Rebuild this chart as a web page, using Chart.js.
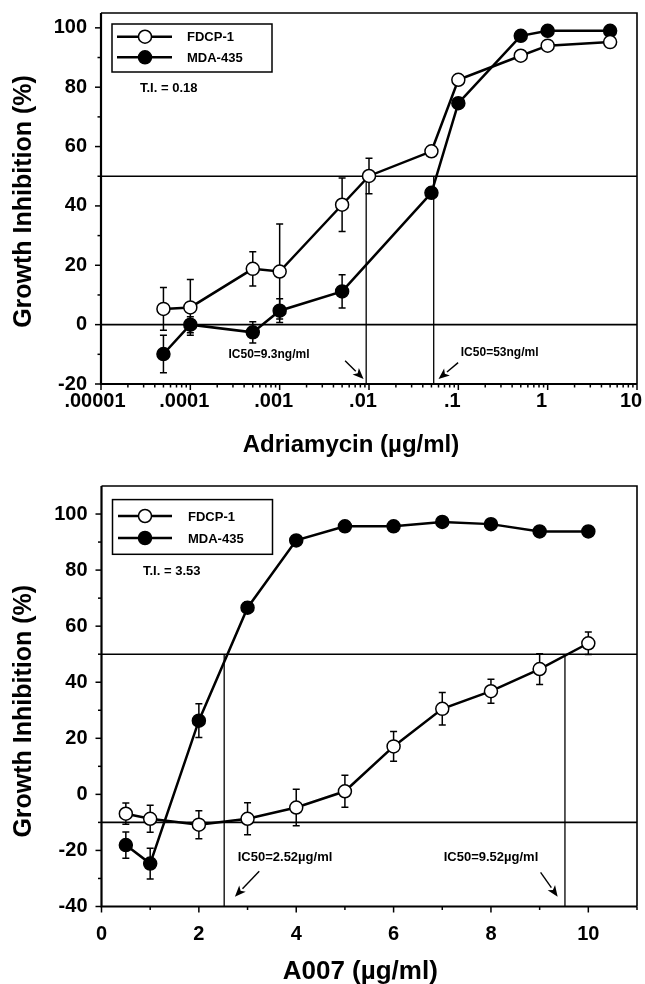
<!DOCTYPE html>
<html><head><meta charset="utf-8">
<script src="https://cdn.jsdelivr.net/npm/chart.js@4.4.0/dist/chart.umd.min.js"></script>
<style>
html,body{margin:0;padding:0;background:#fff;}
#wrap{position:relative;width:645px;height:984px;overflow:hidden;}
canvas{position:absolute;left:0;}
</style>
</head><body>
<div id="wrap">
<canvas id="c1" width="645" height="470" style="top:0px"></canvas>
<canvas id="c2" width="645" height="514" style="top:470px"></canvas>
</div>
<script>
// ---------- DATA (top panel: Adriamycin) ----------
const topDoses   = [0.00005, 0.0001, 0.0005, 0.001, 0.005, 0.01, 0.05, 0.1, 0.5, 1, 5];
const topFDCP    = [5.3, 5.8, 18.8, 17.9, 40.4, 50.1, 58.4, 82.5, 90.6, 94.0, 95.2];
const topFDCPErr = [7.2, 9.4, 5.8, 16, 9, 6, 1.5, 0, 0, 0, 0];
const topMDA     = [-9.9, 0, -2.6, 4.7, 11.2, 44.4, 74.6, 97.3, 99.0, 99.0];
const topMDADoses= [0.00005, 0.0001, 0.0005, 0.001, 0.005, 0.05, 0.1, 0.5, 1, 5];
const topMDAErr  = [6.3, 2.7, 3.6, 4, 5.6, 1.5, 0, 0, 0, 0];
const topXTickValues = [0.00001, 0.0001, 0.001, 0.01, 0.1, 1, 10];
const topXTickLabels = ['.00001', '.0001', '.001', '.01', '.1', '1', '10'];
const topYTicks  = [-20, 0, 20, 40, 60, 80, 100];
const topIC50    = [0.0093, 0.053];
const topIC50Labels = ['IC50=9.3ng/ml', 'IC50=53ng/ml'];
const topRefLines = [50, 0];
const topTI = 'T.I. = 0.18';

// ---------- DATA (bottom panel: A007) ----------
const botDoses   = [0.5, 1, 2, 3, 4, 5, 6, 7, 8, 9, 10];
const botFDCP    = [-6.9, -8.7, -10.8, -8.7, -4.7, 1.1, 17.1, 30.5, 36.8, 44.7, 53.9];
const botFDCPErr = [3.8, 4.8, 5, 5.7, 6.5, 5.7, 5.3, 5.8, 4.3, 5.5, 4];
const botMDA     = [-18.1, -24.7, 26.3, 66.6, 90.6, 95.6, 95.6, 97.2, 96.4, 93.8, 93.8];
const botMDAErr  = [4.7, 5.5, 6, 2, 0, 0, 0, 0, 0, 0, 0];
const botXTicks  = [0, 2, 4, 6, 8, 10];
const botYTicks  = [-40, -20, 0, 20, 40, 60, 80, 100];
const botIC50    = [2.52, 9.52];
const botIC50Labels = ['IC50=2.52\u00b5g/ml', 'IC50=9.52\u00b5g/ml'];
const botRefLines = [50, -10];
const botTI = 'T.I. = 3.53';

const seriesNames = ['FDCP-1', 'MDA-435'];
const yTitle = 'Growth Inhibition (%)';
const topXTitle = 'Adriamycin (\u00b5g/ml)';
const botXTitle = 'A007 (\u00b5g/ml)';

// ---------- rendering ----------
Chart.defaults.font.family = '"Liberation Sans", Arial, Helvetica, sans-serif';
Chart.defaults.font.weight = 'bold';
Chart.defaults.color = '#000';
const FONT = '"Liberation Sans", Arial, Helvetica, sans-serif';

function pts(xs, ys){ return ys.map((v,i)=>({x:xs[i], y:v})); }

function drawArrow(ctx, x1, y1, x2, y2){
  const ang = Math.atan2(y2-y1, x2-x1), L = 11, W = 4.5;
  const bx = x2 - L*Math.cos(ang), by = y2 - L*Math.sin(ang);
  ctx.beginPath(); ctx.moveTo(x1,y1); ctx.lineTo(bx,by); ctx.lineWidth = 1.4; ctx.stroke();
  ctx.beginPath();
  ctx.moveTo(x2,y2);
  ctx.lineTo(bx + W*Math.sin(ang), by - W*Math.cos(ang));
  ctx.lineTo(bx + L*0.25*Math.cos(ang), by + L*0.25*Math.sin(ang));
  ctx.lineTo(bx - W*Math.sin(ang), by + W*Math.cos(ang));
  ctx.closePath(); ctx.fill();
}

function overlay(o){
  return {
    id: 'overlay_' + o.key,
    beforeDatasetsDraw(chart){
      const {ctx, chartArea:a, scales:{x, y}} = chart;
      ctx.save();
      ctx.strokeStyle = '#000';
      ctx.lineWidth = 1.6;
      o.refLines.forEach(v=>{
        const py = y.getPixelForValue(v);
        ctx.beginPath(); ctx.moveTo(a.left, py); ctx.lineTo(a.right, py); ctx.stroke();
      });
      ctx.lineWidth = 1.3;
      o.ic50.forEach(v=>{
        const px = x.getPixelForValue(v);
        ctx.beginPath(); ctx.moveTo(px, y.getPixelForValue(o.refLines[0])); ctx.lineTo(px, a.bottom); ctx.stroke();
      });
      ctx.lineWidth = 1.5;
      o.errs.forEach((errArr, di)=>{
        chart.data.datasets[di].data.forEach((p, j)=>{
          const e = errArr[j]; if(!e) return;
          const px = x.getPixelForValue(p.x);
          const t = y.getPixelForValue(p.y + e), b = y.getPixelForValue(p.y - e);
          ctx.beginPath();
          ctx.moveTo(px, t); ctx.lineTo(px, b);
          ctx.moveTo(px-3.5, t); ctx.lineTo(px+3.5, t);
          ctx.moveTo(px-3.5, b); ctx.lineTo(px+3.5, b);
          ctx.stroke();
        });
      });
      ctx.restore();
    },
    afterDraw(chart){
      const {ctx, chartArea:a, scales:{x, y}} = chart;
      ctx.save();
      ctx.strokeStyle = '#000'; ctx.fillStyle = '#000';
      // frame
      ctx.lineWidth = 1.6;
      ctx.beginPath(); ctx.moveTo(a.left, a.top); ctx.lineTo(a.right, a.top); ctx.lineTo(a.right, a.bottom); ctx.stroke();
      ctx.lineWidth = 2.2;
      ctx.beginPath(); ctx.moveTo(a.left, a.top); ctx.lineTo(a.left, a.bottom); ctx.lineTo(a.right, a.bottom); ctx.stroke();
      // tick marks
      ctx.lineWidth = 1.5;
      o.yMajor.forEach(v=>{ const py=y.getPixelForValue(v); ctx.beginPath(); ctx.moveTo(a.left, py); ctx.lineTo(a.left-6, py); ctx.stroke(); });
      o.yMinor.forEach(v=>{ const py=y.getPixelForValue(v); ctx.beginPath(); ctx.moveTo(a.left, py); ctx.lineTo(a.left-3.5, py); ctx.stroke(); });
      o.xMajor.forEach(v=>{ const px=x.getPixelForValue(v); ctx.beginPath(); ctx.moveTo(px, a.bottom); ctx.lineTo(px, a.bottom+6); ctx.stroke(); });
      o.xMinor.forEach(v=>{ const px=x.getPixelForValue(v); ctx.beginPath(); ctx.moveTo(px, a.bottom); ctx.lineTo(px, a.bottom+3.5); ctx.stroke(); });
      // legend
      const lg = o.legend;
      const lx = a.left + lg.dx, ly = a.top + lg.dy;
      ctx.lineWidth = 1.5;
      ctx.strokeRect(lx, ly, lg.w, lg.h);
      chart.data.datasets.forEach((ds, i)=>{
        const ry = a.top + lg.rows[i];
        ctx.lineWidth = 2.5;
        ctx.beginPath(); ctx.moveTo(a.left + lg.lineX[0], ry); ctx.lineTo(a.left + lg.lineX[1], ry); ctx.stroke();
        ctx.beginPath(); ctx.arc(a.left + lg.markX, ry, 6.5, 0, Math.PI*2);
        ctx.fillStyle = ds.pointBackgroundColor; ctx.fill();
        ctx.lineWidth = 1.5; ctx.stroke();
        ctx.fillStyle = '#000';
        ctx.font = 'bold 13px ' + FONT; ctx.textAlign = 'left'; ctx.textBaseline = 'middle';
        ctx.fillText(ds.label, a.left + lg.textX, ry + 1);
      });
      // T.I.
      ctx.font = 'bold 13px ' + FONT; ctx.textAlign = 'left'; ctx.textBaseline = 'middle';
      ctx.fillText(o.ti, a.left + o.tiPos[0], a.top + o.tiPos[1]);
      // IC50 labels and arrows (placed in data units)
      ctx.font = 'bold ' + o.icFont + 'px ' + FONT; ctx.textAlign = 'center';
      o.icLabels.forEach((t, i)=>{
        const L = o.icLabelPos[i];
        ctx.fillText(t, x.getPixelForValue(L[0]), y.getPixelForValue(L[1]));
        const A = o.arrows[i];
        drawArrow(ctx, x.getPixelForValue(A[0]), y.getPixelForValue(A[1]), x.getPixelForValue(A[2]), y.getPixelForValue(A[3]));
      });
      // axis titles
      ctx.font = 'bold 25px ' + FONT; ctx.textAlign = 'center'; ctx.textBaseline = 'middle';
      ctx.save();
      ctx.translate(o.yTitleX, (a.top + a.bottom)/2 + o.yTitleShift);
      ctx.rotate(-Math.PI/2);
      ctx.fillText(yTitle, 0, 0);
      ctx.restore();
      ctx.font = 'bold ' + o.xTitleFont + 'px ' + FONT;
      ctx.fillText(o.xTitle, (a.left + a.right)/2 + o.xTitleShift, o.xTitleY);
      ctx.restore();
    }
  };
}

function datasets(xsA, ysA, xsB, ysB){
  return [
    {label: seriesNames[0], data: pts(xsA, ysA), showLine: true, borderColor: '#000', borderWidth: 2.5,
     pointRadius: 6.5, pointHoverRadius: 6.5, pointBorderWidth: 1.5, pointBackgroundColor: '#fff', pointBorderColor: '#000', order: 1},
    {label: seriesNames[1], data: pts(xsB, ysB), showLine: true, borderColor: '#000', borderWidth: 2.5,
     pointRadius: 6.5, pointHoverRadius: 6.5, pointBorderWidth: 1.5, pointBackgroundColor: '#000', pointBorderColor: '#000', order: 2}
  ];
}

function baseOptions(xScale, yScale, pad){
  return {
    responsive: false, animation: false, devicePixelRatio: 1,
    layout: {padding: pad},
    plugins: {legend: {display: false}, tooltip: {enabled: false}},
    scales: {x: xScale, y: yScale}
  };
}

// ---- top chart ----
const topXMinor = [];
topXTickValues.slice(0, -1).forEach(d=>{ for(let k=2;k<=9;k++) topXMinor.push(k*d); });
const topYMinor = [-10, 10, 30, 50, 70, 90];

new Chart(document.getElementById('c1'), {
  type: 'scatter',
  data: {datasets: datasets(topDoses, topFDCP, topMDADoses, topMDA)},
  options: baseOptions(
    {type: 'logarithmic', min: 0.00001, max: 10,
     grid: {display: false, drawTicks: false}, border: {display: false},
     afterBuildTicks: s=>{ s.ticks = topXTickValues.map(v=>({value: v})); },
     afterFit: s=>{ s.height = 86; s.paddingLeft = 0; s.paddingRight = 0; },
     ticks: {autoSkip: false, maxRotation: 0, padding: 5, labelOffset: -6, font: {size: 20, weight: 'bold'}, color: '#000',
             callback: (v, i)=>topXTickLabels[i]}},
    {type: 'linear', min: -20, max: 105,
     grid: {display: false, drawTicks: false}, border: {display: false},
     afterBuildTicks: s=>{ s.ticks = topYTicks.map(v=>({value: v})); },
     afterFit: s=>{ s.width = 101; s.paddingTop = 0; s.paddingBottom = 0; },
     ticks: {padding: 14, font: {size: 20, weight: 'bold'}, color: '#000'}},
    {left: 0, right: 7, top: 13, bottom: 0}
  ),
  plugins: [overlay({
    key: 'top', refLines: topRefLines, ic50: topIC50, errs: [topFDCPErr, topMDAErr],
    yMajor: topYTicks, yMinor: topYMinor, xMajor: topXTickValues, xMinor: topXMinor,
    legend: {dx: 11, dy: 11, w: 160, h: 48, rows: [23.7, 44.3], lineX: [16, 71], markX: 44, textX: 86},
    ti: topTI, tiPos: [39, 75],
    icFont: 12, icLabels: topIC50Labels,
    icLabelPos: [[0.00076, -10.1], [0.29, -9.5]],
    arrows: [[0.0054, -12.2, 0.0087, -18.3], [0.0995, -12.8, 0.06, -18.3]],
    yTitleX: 24, yTitleShift: 3,
    xTitle: topXTitle, xTitleFont: 24, xTitleY: 445, xTitleShift: -18
  })]
});

// ---- bottom chart ----
const botXMinor = [1, 3, 5, 7, 9, 11];
const botYMinor = [-30, -10, 10, 30, 50, 70, 90];

new Chart(document.getElementById('c2'), {
  type: 'scatter',
  data: {datasets: datasets(botDoses, botFDCP, botDoses, botMDA)},
  options: baseOptions(
    {type: 'linear', min: 0, max: 11,
     grid: {display: false, drawTicks: false}, border: {display: false},
     afterBuildTicks: s=>{ s.ticks = botXTicks.map(v=>({value: v})); },
     afterFit: s=>{ s.height = 77.5; s.paddingLeft = 0; s.paddingRight = 0; },
     ticks: {autoSkip: false, maxRotation: 0, padding: 16, font: {size: 20, weight: 'bold'}, color: '#000'}},
    {type: 'linear', min: -40, max: 110,
     grid: {display: false, drawTicks: false}, border: {display: false},
     afterBuildTicks: s=>{ s.ticks = botYTicks.map(v=>({value: v})); },
     afterFit: s=>{ s.width = 101.5; s.paddingTop = 0; s.paddingBottom = 0; },
     ticks: {padding: 14, font: {size: 20, weight: 'bold'}, color: '#000'}},
    {left: 0, right: 7, top: 16, bottom: 0}
  ),
  plugins: [overlay({
    key: 'bot', refLines: botRefLines, ic50: botIC50, errs: [botFDCPErr, botMDAErr],
    yMajor: botYTicks, yMinor: botYMinor, xMajor: botXTicks, xMinor: botXMinor,
    legend: {dx: 11, dy: 13.6, w: 160, h: 54.7, rows: [30, 52], lineX: [16.5, 70.5], markX: 43.5, textX: 86.5},
    ti: botTI, tiPos: [41.5, 85],
    icFont: 13, icLabels: botIC50Labels,
    icLabelPos: [[3.77, -22.5], [8.0, -22.5]],
    arrows: [[3.24, -27.4, 2.74, -36.5], [9.02, -27.8, 9.37, -36.5]],
    yTitleX: 24, yTitleShift: 15,
    xTitle: botXTitle, xTitleFont: 26, xTitleY: 502, xTitleShift: -9
  })]
});
</script>
</body></html>
